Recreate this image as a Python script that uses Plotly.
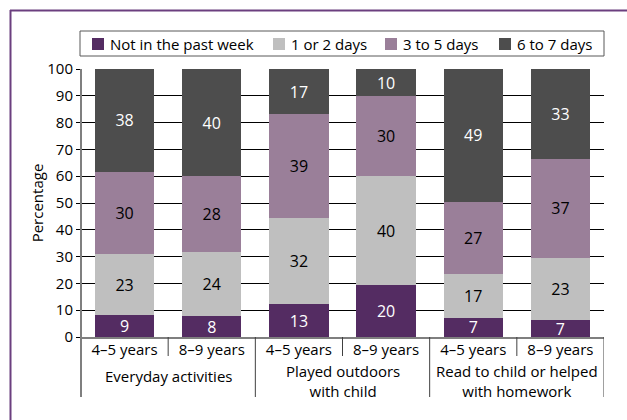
import plotly.graph_objects as go

# ---- data ----
age_groups = ["4–5 years", "8–9 years", "4–5 years", "8–9 years", "4–5 years", "8–9 years"]
activity_labels = ["Everyday activities", "Played outdoors<br>with child",
                   "Read to child or helped<br>with homework"]
series_names = ["Not in the past week", "1 or 2 days", "3 to 5 days", "6 to 7 days"]

# bar segment heights (as drawn) and printed labels
not_past_week = [8.1, 7.7, 12.2, 19.3, 7.2, 6.3]
one_two_days = [22.8, 24.0, 32.2, 40.6, 16.2, 23.2]
three_five_days = [30.8, 28.2, 38.9, 30.0, 27.1, 37.0]
six_seven_days = [38.3, 40.1, 16.6, 10.1, 49.4, 33.4]

lbl_not_past_week = [9, 8, 13, 20, 7, 7]
lbl_one_two_days = [23, 24, 32, 40, 17, 23]
lbl_three_five_days = [30, 28, 39, 30, 27, 37]
lbl_six_seven_days = [38, 40, 17, 10, 49, 33]

y_ticks = list(range(0, 101, 10))

colors = ["#542C62", "#BFBFBF", "#9A7F99", "#4D4D4D"]
text_colors = ["white", "black", "black", "white"]

FONT = "Open Sans"
W, H = 627, 420
ML, MR, MT, MB = 81, 23, 69, 83
PW = W - ML - MR
PH = H - MT - MB

def py(pixel_y):
    return (H - MB - pixel_y) / PH

def px(pixel_x):
    return (pixel_x - ML) / PW

xpos = list(range(len(age_groups)))

fig = go.Figure()
values = [not_past_week, one_two_days, three_five_days, six_seven_days]
labels = [lbl_not_past_week, lbl_one_two_days, lbl_three_five_days, lbl_six_seven_days]
for name, vals, lbls, col, tcol in zip(series_names, values, labels, colors, text_colors):
    fig.add_trace(go.Bar(
        x=xpos, y=vals, name=name, showlegend=False,
        text=[str(v) for v in lbls], textposition="inside",
        insidetextanchor="middle", textangle=0, constraintext="none",
        textfont=dict(family=FONT, size=16, color=tcol),
        marker=dict(color=col, line=dict(width=0)),
        width=0.68, cliponaxis=False, hoverinfo="skip",
    ))

fig.update_layout(
    width=W, height=H,
    margin=dict(l=ML, r=MR, t=MT, b=MB, pad=0),
    barmode="stack",
    paper_bgcolor="white", plot_bgcolor="white",
    font=dict(family=FONT, size=15, color="black"),
    showlegend=False,
    xaxis=dict(range=[-0.5, len(age_groups) - 0.5], tickmode="array", tickvals=xpos,
               ticktext=age_groups, ticks="", showgrid=False, zeroline=False,
               showline=True, linecolor="#7F7F7F", linewidth=2,
               ticklabelstandoff=-2,
               tickfont=dict(family=FONT, size=15, color="black"), fixedrange=True),
    yaxis=dict(range=[0, 100], tickmode="array", tickvals=y_ticks,
               showgrid=True, gridcolor="black", gridwidth=1,
               ticks="outside", ticklen=4, tickcolor="black", tickwidth=1,
               zeroline=False, showline=False,
               tickfont=dict(family=FONT, size=15, color="black"),
               title=dict(text="Percentage", font=dict(family=FONT, size=15, color="black"),
                          standoff=0),
               fixedrange=True),
)

shapes = []
# left axis line extending into category label area
shapes.append(dict(type="line", xref="paper", yref="paper", x0=0, x1=0,
                   y0=1, y1=py(397), line=dict(color="#7F7F7F", width=2)))
# dividers between ages (short) and between activities (long)
for i in range(len(age_groups)):
    xd = i + 0.5
    bottom = py(356) if i % 2 == 0 else py(397)
    shapes.append(dict(type="line", xref="x", yref="paper", x0=xd, x1=xd,
                       y0=0, y1=bottom, line=dict(color="#404040", width=1)))
# outer frame (top and left edges)
shapes.append(dict(type="line", xref="paper", yref="paper", x0=px(10), x1=px(627),
                   y0=py(10.5), y1=py(10.5), line=dict(color="#6B3F7F", width=2)))
shapes.append(dict(type="line", xref="paper", yref="paper", x0=px(10.5), x1=px(10.5),
                   y0=py(10), y1=py(420), line=dict(color="#6B3F7F", width=2)))

# legend box with swatches
shapes.append(dict(type="rect", xref="paper", yref="paper", x0=px(80), x1=1,
                   y0=py(56), y1=py(31), line=dict(color="#595959", width=1),
                   fillcolor="white"))
legend_x = [92, 273, 385, 499]
for name, col, lx in zip(series_names, colors, legend_x):
    shapes.append(dict(type="rect", xref="paper", yref="paper", x0=px(lx), x1=px(lx + 12),
                       y0=py(50), y1=py(38), line=dict(width=0), fillcolor=col))
    fig.add_annotation(x=px(lx + 16), y=py(44), xref="paper", yref="paper", text=name,
                       showarrow=False, xanchor="left", yanchor="middle",
                       font=dict(family=FONT, size=15, color="black"))
fig.update_layout(shapes=shapes)

# group labels
for g, text in enumerate(activity_labels):
    center = 2 * g + 0.5
    yy = 376 if "<br>" not in text else 381
    fig.add_annotation(x=center, y=py(yy), xref="x", yref="paper", text=text,
                       showarrow=False, xanchor="center", yanchor="middle",
                       font=dict(family=FONT, size=15, color="black"))

fig.write_html("out.html", config={"displayModeBar": False},
               post_script="document.body.style.margin='0';document.body.style.overflow='hidden';")
